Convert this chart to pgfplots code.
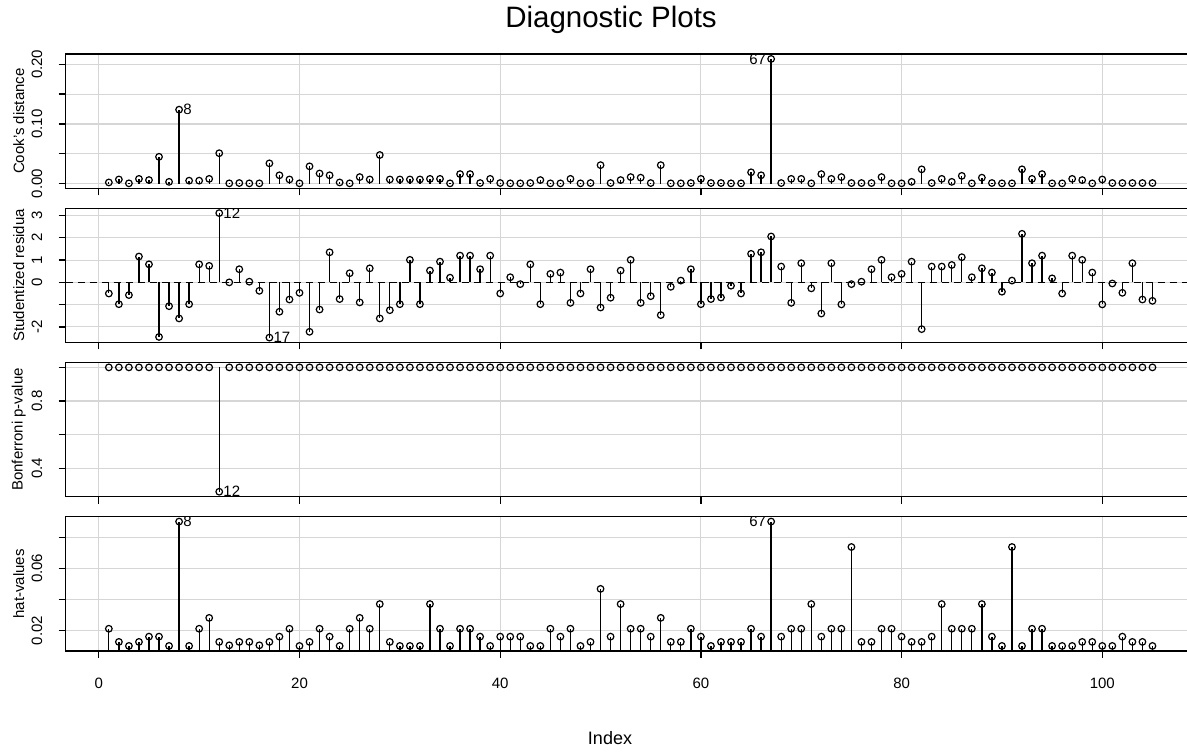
\documentclass[border=0pt]{standalone}
\usepackage{pgfplots}
\pgfplotsset{compat=1.18}
\usepackage{fontspec}
\setmainfont{Liberation Sans}
\definecolor{gridgray}{RGB}{214,214,214}

\pgfplotsset{
  diag/.style={
    scale only axis, width=1128.5bp, height=134.3bp,
    anchor=south west,
    xmin=-3.3, xmax=109.16,
    xtick={0,20,40,60,80,100}, xticklabels={},
    scaled y ticks=false,
    tick align=outside, tick pos=left,
    major tick length=7bp,
    tick style={black, line width=1.3bp},
    axis line style={black, line width=1.3bp},
    grid=major, grid style={gridgray, line width=1.1bp},
    ticklabel style={font=\fontsize{15bp}{18bp}\selectfont},
    yticklabel style={rotate=90, anchor=south, yshift=13bp},
    xticklabel style={yshift=-17bp},
    every axis y label/.style={at={(axis description cs:-0.0416,0.5)}, rotate=90, anchor=center, font=\fontsize{15bp}{18bp}\selectfont},
  },
  stem/.style={ycomb, black, line width=1.3bp, mark=o, mark size=3.3bp, mark options={solid, line width=1.2bp}},
}
\tikzset{ptlab/.style={font=\fontsize{15bp}{18bp}\selectfont, inner sep=0pt}}

\begin{document}
\begin{tikzpicture}
\path[use as bounding box] (0,0) rectangle (1187bp,753bp);
\clip (0,0) rectangle (1187bp,753bp);

% Cook's distance
\begin{axis}[diag, at={(65.7bp,564.7bp)},
  ymin=-0.0078, ymax=0.2173,
  ytick={0,0.05,0.1,0.15,0.2}, yticklabels={0.00,,0.10,,0.20},
  ylabel={Cook's distance}]
\addplot[stem] coordinates {
(1,0.002) (2,0.007) (3,0.0005) (4,0.008) (5,0.006) (6,0.045) (7,0.003) (8,0.124) (9,0.005) (10,0.005)
(11,0.008) (12,0.051) (13,0.0005) (14,0.001) (15,0.0005) (16,0.0005) (17,0.034) (18,0.014) (19,0.007) (20,0.0005)
(21,0.029) (22,0.017) (23,0.014) (24,0.002) (25,0.0005) (26,0.011) (27,0.007) (28,0.048) (29,0.007) (30,0.007)
(31,0.007) (32,0.007) (33,0.008) (34,0.008) (35,0.0005) (36,0.016) (37,0.016) (38,0.001) (39,0.008) (40,0.001)
(41,0.0005) (42,0.0005) (43,0.001) (44,0.006) (45,0.0005) (46,0.0005) (47,0.008) (48,0.0005) (49,0.001) (50,0.031)
(51,0.001) (52,0.006) (53,0.011) (54,0.010) (55,0.001) (56,0.031) (57,0.0005) (58,0.0005) (59,0.001) (60,0.008)
(61,0.001) (62,0.001) (63,0.0005) (64,0.0005) (65,0.019) (66,0.014) (67,0.209) (68,0.001) (69,0.008) (70,0.008)
(71,0.0005) (72,0.016) (73,0.008) (74,0.011) (75,0.001) (76,0.001) (77,0.001) (78,0.011) (79,0.0005) (80,0.0005)
(81,0.003) (82,0.024) (83,0.001) (84,0.008) (85,0.003) (86,0.013) (87,0.0005) (88,0.010) (89,0.001) (90,0.0005)
(91,0.0005) (92,0.024) (93,0.008) (94,0.016) (95,0.0005) (96,0.0005) (97,0.008) (98,0.006) (99,0.0005) (100,0.007)
(101,0.001) (102,0.001) (103,0.001) (104,0.001) (105,0.001)
};
\node[ptlab, anchor=west, xshift=4bp] at (axis cs:8,0.124) {8};
\node[ptlab, anchor=east, xshift=-5bp] at (axis cs:67,0.209) {67};
\end{axis}

% Studentized residuals
\begin{axis}[diag, at={(65.7bp,410.5bp)},
  ymin=-2.70, ymax=3.33,
  ytick={-2,-1,0,1,2,3}, yticklabels={-2,,0,1,2,3},
  ylabel={Studentized residua}]
\addplot[black, line width=1.3bp, dash pattern=on 7bp off 5bp] coordinates {(-3.3,0) (109.16,0)};
\addplot[stem] coordinates {
(1,-0.50) (2,-0.98) (3,-0.57) (4,1.16) (5,0.81) (6,-2.45) (7,-1.07) (8,-1.62) (9,-0.98) (10,0.81)
(11,0.74) (12,3.11) (13,0.00) (14,0.59) (15,0.03) (16,-0.38) (17,-2.48) (18,-1.32) (19,-0.77) (20,-0.47)
(21,-2.22) (22,-1.22) (23,1.35) (24,-0.75) (25,0.41) (26,-0.90) (27,0.63) (28,-1.62) (29,-1.25) (30,-0.98)
(31,1.01) (32,-0.98) (33,0.53) (34,0.93) (35,0.21) (36,1.20) (37,1.20) (38,0.59) (39,1.20) (40,-0.50)
(41,0.23) (42,-0.08) (43,0.81) (44,-0.98) (45,0.38) (46,0.44) (47,-0.92) (48,-0.50) (49,0.59) (50,-1.13)
(51,-0.69) (52,0.53) (53,1.01) (54,-0.92) (55,-0.62) (56,-1.47) (57,-0.20) (58,0.08) (59,0.59) (60,-0.98)
(61,-0.75) (62,-0.68) (63,-0.15) (64,-0.50) (65,1.28) (66,1.35) (67,2.06) (68,0.71) (69,-0.92) (70,0.86)
(71,-0.27) (72,-1.40) (73,0.86) (74,-0.99) (75,-0.08) (76,0.03) (77,0.59) (78,1.01) (79,0.23) (80,0.38)
(81,0.93) (82,-2.10) (83,0.71) (84,0.71) (85,0.78) (86,1.13) (87,0.23) (88,0.63) (89,0.44) (90,-0.42)
(91,0.08) (92,2.18) (93,0.86) (94,1.20) (95,0.18) (96,-0.50) (97,1.20) (98,1.01) (99,0.44) (100,-0.99)
(101,-0.05) (102,-0.47) (103,0.86) (104,-0.77) (105,-0.83)
};
\node[ptlab, anchor=west, xshift=4bp] at (axis cs:12,3.11) {12};
\node[ptlab, anchor=west, xshift=4bp] at (axis cs:17,-2.48) {17};
\end{axis}

% Bonferroni p-value
\begin{axis}[diag, at={(65.7bp,256.3bp)},
  ymin=0.2304, ymax=1.0296,
  ytick={0.4,0.6,0.8,1.0}, yticklabels={0.4,,0.8,},
  ylabel={Bonferroni p-value}]
\addplot[black, line width=1.3bp] coordinates {(12,1) (12,0.26)};
\addplot[black, only marks, mark=o, mark size=3.3bp, mark options={solid, line width=1.2bp}] coordinates {
(1,1) (2,1) (3,1) (4,1) (5,1) (6,1) (7,1) (8,1) (9,1) (10,1) (11,1) (12,0.26) (13,1) (14,1) (15,1)
(16,1) (17,1) (18,1) (19,1) (20,1) (21,1) (22,1) (23,1) (24,1) (25,1) (26,1) (27,1) (28,1) (29,1) (30,1)
(31,1) (32,1) (33,1) (34,1) (35,1) (36,1) (37,1) (38,1) (39,1) (40,1) (41,1) (42,1) (43,1) (44,1) (45,1)
(46,1) (47,1) (48,1) (49,1) (50,1) (51,1) (52,1) (53,1) (54,1) (55,1) (56,1) (57,1) (58,1) (59,1) (60,1)
(61,1) (62,1) (63,1) (64,1) (65,1) (66,1) (67,1) (68,1) (69,1) (70,1) (71,1) (72,1) (73,1) (74,1) (75,1)
(76,1) (77,1) (78,1) (79,1) (80,1) (81,1) (82,1) (83,1) (84,1) (85,1) (86,1) (87,1) (88,1) (89,1) (90,1)
(91,1) (92,1) (93,1) (94,1) (95,1) (96,1) (97,1) (98,1) (99,1) (100,1) (101,1) (102,1) (103,1) (104,1) (105,1)
};
\node[ptlab, anchor=west, xshift=4bp] at (axis cs:12,0.26) {12};
\end{axis}

% hat-values
\begin{axis}[diag, at={(65.7bp,102.1bp)},
  ymin=0.0068, ymax=0.0934,
  ytick={0.02,0.04,0.06,0.08}, yticklabels={0.02,,0.06,},
  xticklabels={0,20,40,60,80,100},
  ylabel={hat-values}]
\addplot[stem] coordinates {
(1,0.0211) (2,0.0126) (3,0.0100) (4,0.0126) (5,0.0160) (6,0.0160) (7,0.0100) (8,0.0902) (9,0.0100) (10,0.0211)
(11,0.0281) (12,0.0126) (13,0.0104) (14,0.0126) (15,0.0126) (16,0.0104) (17,0.0126) (18,0.0160) (19,0.0211) (20,0.0100)
(21,0.0126) (22,0.0211) (23,0.0160) (24,0.0100) (25,0.0211) (26,0.0281) (27,0.0211) (28,0.0370) (29,0.0126) (30,0.0100)
(31,0.0100) (32,0.0100) (33,0.0370) (34,0.0211) (35,0.0100) (36,0.0211) (37,0.0211) (38,0.0160) (39,0.0100) (40,0.0160)
(41,0.0160) (42,0.0160) (43,0.0100) (44,0.0100) (45,0.0211) (46,0.0160) (47,0.0211) (48,0.0100) (49,0.0126) (50,0.0468)
(51,0.0160) (52,0.0370) (53,0.0211) (54,0.0211) (55,0.0160) (56,0.0281) (57,0.0126) (58,0.0126) (59,0.0211) (60,0.0160)
(61,0.0100) (62,0.0126) (63,0.0126) (64,0.0126) (65,0.0211) (66,0.0160) (67,0.0902) (68,0.0160) (69,0.0211) (70,0.0211)
(71,0.0370) (72,0.0160) (73,0.0211) (74,0.0211) (75,0.0738) (76,0.0126) (77,0.0126) (78,0.0211) (79,0.0211) (80,0.0160)
(81,0.0126) (82,0.0126) (83,0.0160) (84,0.0370) (85,0.0211) (86,0.0211) (87,0.0211) (88,0.0370) (89,0.0160) (90,0.0100)
(91,0.0738) (92,0.0100) (93,0.0211) (94,0.0211) (95,0.0100) (96,0.0100) (97,0.0100) (98,0.0126) (99,0.0126) (100,0.0100)
(101,0.0100) (102,0.0160) (103,0.0126) (104,0.0126) (105,0.0100)
};
\node[ptlab, anchor=west, xshift=4bp] at (axis cs:8,0.0902) {8};
\node[ptlab, anchor=east, xshift=-5bp] at (axis cs:67,0.0902) {67};
\end{axis}

\node[font=\fontsize{29.5bp}{34bp}\selectfont] at (611bp,733bp) {Diagnostic Plots};
\node[font=\fontsize{18bp}{22bp}\selectfont] at (610bp,15bp) {Index};
\end{tikzpicture}
\end{document}
